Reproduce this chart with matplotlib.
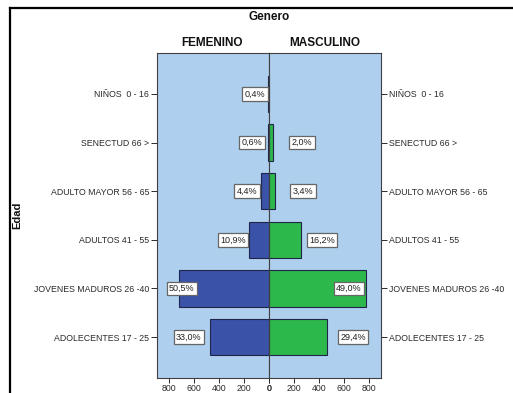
import matplotlib.pyplot as plt
from matplotlib.lines import Line2D
import numpy as np

# Age groups, top to bottom
categories = ['NIÑOS  0 - 16', 'SENECTUD 66 >', 'ADULTO MAYOR 56 - 65',
              'ADULTOS 41 - 55', 'JOVENES MADUROS 26 -40', 'ADOLECENTES 17 - 25']

# Counts per group
femenino = [6, 9, 62, 154, 715, 467]
masculino = [0, 32, 54, 257, 778, 467]

# Percent labels shown in the boxes
fem_pct = [0.4, 0.6, 4.4, 10.9, 50.5, 33.0]
mas_pct = [0.0, 2.0, 3.4, 16.2, 49.0, 29.4]

xticks = [0, 200, 400, 600, 800]

# label box centres (data units), layout only
fem_label_x = [110, 134, 174, 286, 694, 638]
mas_label_x = [0, 266, 274, 426, 642, 674]

plt.rcParams['font.family'] = ['Liberation Sans', 'DejaVu Sans']

W, H = 513, 393
fig = plt.figure(figsize=(W / 100, H / 100), dpi=100)

bg = '#aecfee'
c_fem = '#3a53a8'
c_mas = '#2db84b'
edge = '#20264a'
txt = '#2a2a2a'

x0, xm, x1 = 157, 268.7, 381
ytop, ybot = 53, 378
scale = 0.125  # px per count

axl = fig.add_axes([x0 / W, 1 - ybot / H, (xm - x0) / W, (ybot - ytop) / H])
axr = fig.add_axes([xm / W, 1 - ybot / H, (x1 - xm) / W, (ybot - ytop) / H])

y = np.arange(len(categories))

for ax, vals, col, pct, lx in [
        (axl, femenino, c_fem, fem_pct, fem_label_x),
        (axr, masculino, c_mas, mas_pct, mas_label_x)]:
    ax.set_facecolor(bg)
    ax.barh(y, vals, height=0.75, color=col, edgecolor=edge, linewidth=0.8)
    for yi, p, x in zip(y, pct, lx):
        if p <= 0:
            continue
        ax.text(x, yi, f'{p:.1f}%'.replace('.', ','), ha='center', va='center',
                fontsize=6.5, color='#222222',
                bbox=dict(boxstyle='square,pad=0.25', fc='white', ec='#666666', lw=0.9))
    ax.set_ylim(5.84, -0.84)
    ax.set_yticks(y)
    ax.set_yticklabels(categories)
    ax.set_xticks(xticks)
    ax.set_xticklabels([str(t) for t in xticks])
    ax.tick_params(axis='y', labelsize=6.3, colors=txt, length=4.5, width=0.7, pad=1.2)
    ax.tick_params(axis='x', labelsize=6.3, colors=txt, length=3.5, width=0.7, pad=0.8)
    for s in ax.spines.values():
        s.set_color('#404040')
        s.set_linewidth(0.8)

axl.set_xlim((xm - x0) / scale, 0)
axr.set_xlim(0, (x1 - xm) / scale)
axr.yaxis.tick_right()

fig.text(269 / W, 1 - 17 / H, 'Genero', ha='center', va='center',
         fontsize=8.5, fontweight='bold', color='#111111')
fig.text(212 / W, 1 - 43 / H, 'FEMENINO', ha='center', va='center',
         fontsize=8.5, fontweight='bold', color='#111111')
fig.text(325 / W, 1 - 43 / H, 'MASCULINO', ha='center', va='center',
         fontsize=8.5, fontweight='bold', color='#111111')
fig.text(17 / W, 1 - 215 / H, 'Edad', ha='center', va='center', rotation=90,
         fontsize=8, fontweight='bold', color='#111111')

# outer frame (top and left edges)
fig.add_artist(Line2D([9.5 / W, 1], [1 - 7.5 / H, 1 - 7.5 / H], color='black', lw=1.6))
fig.add_artist(Line2D([9.5 / W, 9.5 / W], [0, 1 - 7.5 / H], color='black', lw=1.6))

fig.savefig('out.png', dpi=100)
